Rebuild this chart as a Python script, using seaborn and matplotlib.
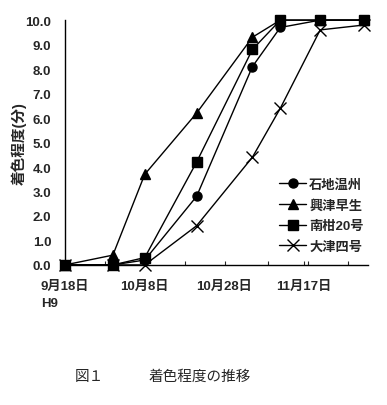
import matplotlib
matplotlib.use("Agg")
import matplotlib.pyplot as plt
import matplotlib.dates as mdates
import numpy as np
import pandas as pd
import seaborn as sns

# survey dates (H9 = 1997)
dates = ["1997-09-18", "1997-09-30", "1997-10-08", "1997-10-21",
         "1997-11-04", "1997-11-11", "1997-11-21", "1997-12-02"]
varieties = ["石地温州", "興津早生", "南柑20号", "大津四号"]
ishiji = [0.0, 0.0, 0.2, 2.8, 8.1, 9.7, 10.0, 10.0]
okitsu = [0.0, 0.4, 3.7, 6.2, 9.3, 10.0, 10.0, 10.0]
nankan = [0.0, 0.0, 0.3, 4.2, 8.8, 10.0, 10.0, 10.0]
otsu = [0.0, 0.0, 0.0, 1.6, 4.4, 6.4, 9.6, 9.8]
tick_dates = ["1997-09-18", "1997-10-08", "1997-10-28", "1997-11-17"]
tick_labels = ["9月18日\nH9", "10月8日", "10月28日", "11月17日"]
yticks = np.arange(0, 11, 1.0)

sns.set_theme(style="ticks")
plt.rcParams['font.family'] = ['Liberation Sans', 'Noto Sans CJK JP']

df = pd.DataFrame({
    "date": pd.to_datetime(dates * 4),
    "score": ishiji + okitsu + nankan + otsu,
    "variety": np.repeat(varieties, len(dates)),
})

fig = plt.figure(figsize=(3.87, 4.06), dpi=100)
ax = fig.add_axes([0.168, 0.345, 0.783, 0.603])

markers = {"石地温州": "o", "興津早生": "^", "南柑20号": "s", "大津四号": "x"}
sizes = {"石地温州": 6.5, "興津早生": 6.5, "南柑20号": 6.5, "大津四号": 8}
for v in varieties:
    sub = df[df.variety == v]
    sns.lineplot(data=sub, x="date", y="score", ax=ax, color="black",
                 marker=markers[v], markersize=sizes[v], linewidth=1.0,
                 markeredgecolor="black", markerfacecolor="black",
                 markeredgewidth=1.0, label=v, clip_on=False)

ax.set_xlim(pd.Timestamp("1997-09-18"), pd.Timestamp("1997-12-03"))
ax.set_ylim(0, 10)
ax.set_yticks(yticks)
ax.set_yticklabels([f"{t:.1f}" for t in yticks], fontsize=9.5, fontweight="bold")
ax.set_xticks(pd.to_datetime(tick_dates))
ax.set_xticklabels(tick_labels, fontsize=9.5, fontweight="bold", linespacing=1.5)
ax.get_xticklabels()[0].set_multialignment("left")
ax.xaxis.set_minor_locator(mdates.DayLocator(bymonthday=[28, 8, 18]))
ax.tick_params(axis="x", which="both", direction="in", length=3, width=0.8, pad=11)
ax.tick_params(axis="y", direction="in", length=0, pad=10)
ax.set_xlabel("")
ax.set_ylabel("着色程度(分)", fontsize=10.5, fontweight="bold")
ax.yaxis.set_label_coords(-0.125, 0.5)
ax.spines["top"].set_visible(False)
ax.spines["right"].set_visible(False)
for s in ["left", "bottom"]:
    ax.spines[s].set_linewidth(1.0)
    ax.spines[s].set_color("black")

leg = ax.legend(loc="upper left", bbox_to_anchor=(0.69, 0.375), frameon=False,
                fontsize=9.5, handlelength=2.0, handletextpad=0.25,
                labelspacing=0.62, borderaxespad=0)
for t in leg.get_texts():
    t.set_fontweight("bold")

fig.text(0.194, 0.062, "図１", fontsize=10.5, family=['Noto Sans CJK JP'])
fig.text(0.385, 0.062, "着色程度の推移", fontsize=10.5, family=['Noto Sans CJK JP'])

fig.savefig("out.png", dpi=100, facecolor="white")
